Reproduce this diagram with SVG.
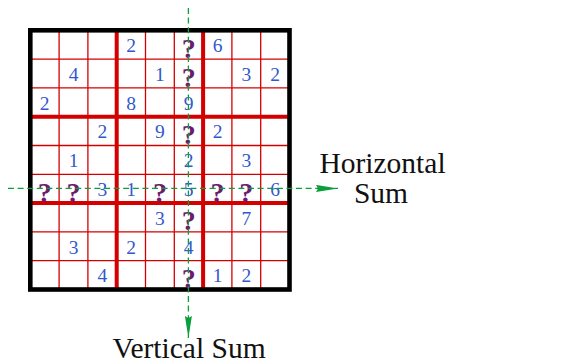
<svg xmlns="http://www.w3.org/2000/svg" width="572" height="363" viewBox="0 0 572 363">
<style>
.thin{stroke:#d40000;stroke-width:1.3;fill:none}
.thick{stroke:#d40000;stroke-width:4;fill:none}
.border{stroke:#000;stroke-width:4.6;fill:none}
.d{font-family:"Liberation Serif",serif;font-size:19.5px;fill:#3358cc;text-anchor:middle}
.q{font-family:"Liberation Serif",serif;font-size:28px;font-weight:bold;fill:#6e1a6e;text-anchor:middle}
.lbl{font-family:"Liberation Serif",serif;font-size:29.5px;fill:#111;text-anchor:middle}
.dash{stroke:#0b9e3c;stroke-width:1.3;stroke-dasharray:6 3.6;fill:none}
</style>
<defs>
<marker id="arr" markerUnits="userSpaceOnUse" markerWidth="23" markerHeight="8" refX="22" refY="3.5" orient="auto">
<path d="M0,0 L22,3.5 L0,7 L2,3.5 Z" fill="#0b9e3c"/>
</marker>
</defs>
<rect width="572" height="363" fill="#fff"/>
<g id="grid">
<g class="thin">
<path d="M59.1,30.3V289.5M87.9,30.3V289.5M145.5,30.3V289.5M174.3,30.3V289.5M231.9,30.3V289.5M260.7,30.3V289.5"/>
<path d="M30.3,59.1H289.5M30.3,87.9H289.5M30.3,145.5H289.5M30.3,174.3H289.5M30.3,231.9H289.5M30.3,260.7H289.5"/>
</g>
<g class="thick">
<path d="M116.7,30.3V289.5M203.1,30.3V289.5M30.3,116.7H289.5M30.3,203.1H289.5"/>
</g>
<rect class="border" x="30.3" y="30.3" width="259.2" height="259.2"/>
</g>
<g id="givens">
<text class="d" x="131.1" y="51.9">2</text>
<text class="d" x="217.5" y="51.9">6</text>
<text class="d" x="73.5" y="80.7">4</text>
<text class="d" x="159.9" y="80.7">1</text>
<text class="d" x="246.3" y="80.7">3</text>
<text class="d" x="275.1" y="80.7">2</text>
<text class="d" x="44.7" y="109.5">2</text>
<text class="d" x="131.1" y="109.5">8</text>
<text class="d" x="188.7" y="109.5">9</text>
<text class="d" x="102.3" y="138.3">2</text>
<text class="d" x="159.9" y="138.3">9</text>
<text class="d" x="217.5" y="138.3">2</text>
<text class="d" x="73.5" y="167.1">1</text>
<text class="d" x="188.7" y="167.1">2</text>
<text class="d" x="246.3" y="167.1">3</text>
<text class="d" x="102.3" y="195.9">3</text>
<text class="d" x="131.1" y="195.9">1</text>
<text class="d" x="188.7" y="195.9">5</text>
<text class="d" x="275.1" y="195.9">6</text>
<text class="d" x="159.9" y="224.7">3</text>
<text class="d" x="246.3" y="224.7">7</text>
<text class="d" x="73.5" y="253.5">3</text>
<text class="d" x="131.1" y="253.5">2</text>
<text class="d" x="188.7" y="253.5">4</text>
<text class="d" x="102.3" y="282.3">4</text>
<text class="d" x="217.5" y="282.3">1</text>
<text class="d" x="246.3" y="282.3">2</text>
</g>
<g id="unknowns">
<text class="q" x="188.7" y="57.8">?</text>
<text class="q" x="188.7" y="86.6">?</text>
<text class="q" x="188.7" y="144">?</text>
<text class="q" x="44.7" y="201.6">?</text>
<text class="q" x="73.5" y="201.6">?</text>
<text class="q" x="159.9" y="201.6">?</text>
<text class="q" x="217.5" y="201.6">?</text>
<text class="q" x="246.3" y="201.6">?</text>
<text class="q" x="188.7" y="230.4">?</text>
<text class="q" x="188.7" y="288">?</text>
</g>
<g id="connectors">
<line class="dash" x1="188.4" y1="8" x2="188.4" y2="338" marker-end="url(#arr)"/>
<line class="dash" x1="8" y1="188.4" x2="338" y2="188.4" marker-end="url(#arr)"/>
</g>
<g id="horizontal-label">
<text class="lbl" x="382.5" y="173.3">Horizontal</text>
<text class="lbl" x="381" y="203.3">Sum</text>
</g>
<g id="vertical-label">
<text class="lbl" x="189" y="358.3">Vertical Sum</text>
</g>
</svg>
